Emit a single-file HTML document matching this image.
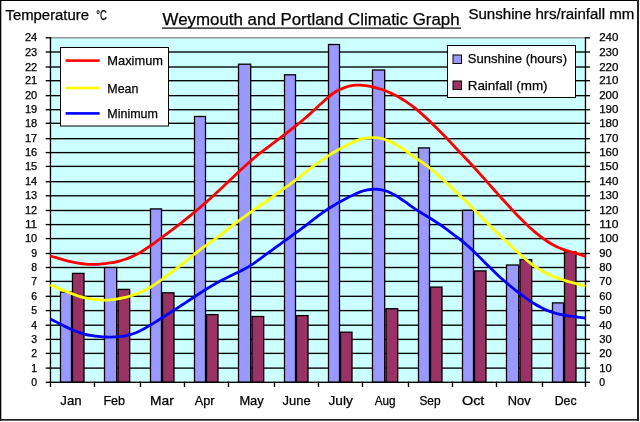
<!DOCTYPE html>
<html lang="en"><head><meta charset="utf-8"><title>Weymouth and Portland Climatic Graph</title>
<style>html,body{margin:0;padding:0;background:#fff;}svg{display:block;}text{font-family:"Liberation Sans", "DejaVu Sans", sans-serif;fill:#000;stroke:#000;stroke-width:0.25px;}</style>
</head><body>
<svg width="640" height="422" viewBox="0 0 640 422">
<rect x="0" y="0" width="640" height="422" fill="#fff"/>
<rect x="0" y="0" width="639" height="1" fill="#000"/>
<rect x="0" y="0" width="1.3" height="421" fill="#000"/>
<rect x="637" y="0" width="2" height="421" fill="#222"/>
<rect x="0" y="419" width="639" height="1.7" fill="#222"/>
<rect x="50" y="37.12" width="536" height="345.50" fill="#ccffff"/>
<g fill="#000"><rect x="50" y="367.43" width="535" height="1.35" /><rect x="50" y="352.72" width="535" height="1.35" /><rect x="50" y="338.72" width="535" height="1.35" /><rect x="50" y="324.52" width="535" height="1.35" /><rect x="50" y="309.93" width="535" height="1.35" /><rect x="50" y="295.62" width="535" height="1.35" /><rect x="50" y="280.72" width="535" height="1.35" /><rect x="50" y="266.82" width="535" height="1.35" /><rect x="50" y="252.82" width="535" height="1.35" /><rect x="50" y="237.92" width="535" height="1.35" /><rect x="50" y="223.92" width="535" height="1.35" /><rect x="50" y="209.82" width="535" height="1.35" /><rect x="50" y="195.12" width="535" height="1.35" /><rect x="50" y="181.02" width="535" height="1.35" /><rect x="50" y="165.72" width="535" height="1.35" /><rect x="50" y="151.92" width="535" height="1.35" /><rect x="50" y="138.02" width="535" height="1.35" /><rect x="50" y="122.62" width="535" height="1.35" /><rect x="50" y="109.03" width="535" height="1.35" /><rect x="50" y="94.98" width="535" height="1.35" /><rect x="50" y="80.03" width="535" height="1.35" /><rect x="50" y="66.33" width="535" height="1.35" /><rect x="50" y="51.33" width="535" height="1.35" /></g>
<rect x="50" y="37.12" width="536" height="1.35" fill="#8c8c8c"/>
<g><rect x="60.5" y="292.1" width="11" height="90.2" fill="#9999ff" stroke="#000" stroke-width="1.3"/><rect x="72.5" y="273.4" width="11.5" height="108.9" fill="#993366" stroke="#000" stroke-width="1.3"/><rect x="104.5" y="267.5" width="12.2" height="114.8" fill="#9999ff" stroke="#000" stroke-width="1.3"/><rect x="118.0" y="289.4" width="11.7" height="92.9" fill="#993366" stroke="#000" stroke-width="1.3"/><rect x="150.5" y="208.9" width="11" height="173.4" fill="#9999ff" stroke="#000" stroke-width="1.3"/><rect x="162.5" y="292.8" width="11.5" height="89.5" fill="#993366" stroke="#000" stroke-width="1.3"/><rect x="194.5" y="116.5" width="11" height="265.8" fill="#9999ff" stroke="#000" stroke-width="1.3"/><rect x="206.5" y="314.6" width="11.5" height="67.7" fill="#993366" stroke="#000" stroke-width="1.3"/><rect x="238.5" y="64.2" width="12.2" height="318.1" fill="#9999ff" stroke="#000" stroke-width="1.3"/><rect x="252.0" y="316.5" width="11.7" height="65.8" fill="#993366" stroke="#000" stroke-width="1.3"/><rect x="284.5" y="74.8" width="11" height="307.5" fill="#9999ff" stroke="#000" stroke-width="1.3"/><rect x="296.5" y="315.6" width="11.5" height="66.7" fill="#993366" stroke="#000" stroke-width="1.3"/><rect x="328.5" y="44.5" width="11" height="337.8" fill="#9999ff" stroke="#000" stroke-width="1.3"/><rect x="340.5" y="332.2" width="11.5" height="50.1" fill="#993366" stroke="#000" stroke-width="1.3"/><rect x="372.5" y="70.0" width="12.2" height="312.3" fill="#9999ff" stroke="#000" stroke-width="1.3"/><rect x="386.0" y="308.7" width="11.7" height="73.6" fill="#993366" stroke="#000" stroke-width="1.3"/><rect x="418.5" y="147.9" width="11" height="234.4" fill="#9999ff" stroke="#000" stroke-width="1.3"/><rect x="430.5" y="287.1" width="11.5" height="95.2" fill="#993366" stroke="#000" stroke-width="1.3"/><rect x="462.5" y="210.3" width="11" height="172.0" fill="#9999ff" stroke="#000" stroke-width="1.3"/><rect x="474.5" y="270.9" width="11.5" height="111.4" fill="#993366" stroke="#000" stroke-width="1.3"/><rect x="506.5" y="265.0" width="12.2" height="117.3" fill="#9999ff" stroke="#000" stroke-width="1.3"/><rect x="520.0" y="259.6" width="11.7" height="122.7" fill="#993366" stroke="#000" stroke-width="1.3"/><rect x="552.5" y="302.9" width="11" height="79.4" fill="#9999ff" stroke="#000" stroke-width="1.3"/><rect x="564.5" y="251.8" width="11.5" height="130.5" fill="#993366" stroke="#000" stroke-width="1.3"/></g>
<g fill="#000"><rect x="49.8" y="37.12" width="1.35" height="345.50"/><rect x="584.8" y="37.12" width="1.35" height="345.50"/><rect x="50" y="381.62" width="536" height="1.35"/><rect x="45.7" y="381.62" width="5" height="1.35"/><rect x="585" y="381.62" width="5" height="1.35"/><rect x="45.7" y="367.43" width="5" height="1.35"/><rect x="585" y="367.43" width="5" height="1.35"/><rect x="45.7" y="352.72" width="5" height="1.35"/><rect x="585" y="352.72" width="5" height="1.35"/><rect x="45.7" y="338.72" width="5" height="1.35"/><rect x="585" y="338.72" width="5" height="1.35"/><rect x="45.7" y="324.52" width="5" height="1.35"/><rect x="585" y="324.52" width="5" height="1.35"/><rect x="45.7" y="309.93" width="5" height="1.35"/><rect x="585" y="309.93" width="5" height="1.35"/><rect x="45.7" y="295.62" width="5" height="1.35"/><rect x="585" y="295.62" width="5" height="1.35"/><rect x="45.7" y="280.72" width="5" height="1.35"/><rect x="585" y="280.72" width="5" height="1.35"/><rect x="45.7" y="266.82" width="5" height="1.35"/><rect x="585" y="266.82" width="5" height="1.35"/><rect x="45.7" y="252.82" width="5" height="1.35"/><rect x="585" y="252.82" width="5" height="1.35"/><rect x="45.7" y="237.92" width="5" height="1.35"/><rect x="585" y="237.92" width="5" height="1.35"/><rect x="45.7" y="223.92" width="5" height="1.35"/><rect x="585" y="223.92" width="5" height="1.35"/><rect x="45.7" y="209.82" width="5" height="1.35"/><rect x="585" y="209.82" width="5" height="1.35"/><rect x="45.7" y="195.12" width="5" height="1.35"/><rect x="585" y="195.12" width="5" height="1.35"/><rect x="45.7" y="181.02" width="5" height="1.35"/><rect x="585" y="181.02" width="5" height="1.35"/><rect x="45.7" y="165.72" width="5" height="1.35"/><rect x="585" y="165.72" width="5" height="1.35"/><rect x="45.7" y="151.92" width="5" height="1.35"/><rect x="585" y="151.92" width="5" height="1.35"/><rect x="45.7" y="138.02" width="5" height="1.35"/><rect x="585" y="138.02" width="5" height="1.35"/><rect x="45.7" y="122.62" width="5" height="1.35"/><rect x="585" y="122.62" width="5" height="1.35"/><rect x="45.7" y="109.03" width="5" height="1.35"/><rect x="585" y="109.03" width="5" height="1.35"/><rect x="45.7" y="94.98" width="5" height="1.35"/><rect x="585" y="94.98" width="5" height="1.35"/><rect x="45.7" y="80.03" width="5" height="1.35"/><rect x="585" y="80.03" width="5" height="1.35"/><rect x="45.7" y="66.33" width="5" height="1.35"/><rect x="585" y="66.33" width="5" height="1.35"/><rect x="45.7" y="51.33" width="5" height="1.35"/><rect x="585" y="51.33" width="5" height="1.35"/><rect x="45.7" y="37.12" width="5" height="1.35"/><rect x="585" y="37.12" width="5" height="1.35"/><rect x="49.80" y="381.62" width="1.35" height="5.3"/><rect x="93.80" y="381.62" width="1.35" height="5.3"/><rect x="139.80" y="381.62" width="1.35" height="5.3"/><rect x="183.80" y="381.62" width="1.35" height="5.3"/><rect x="227.80" y="381.62" width="1.35" height="5.3"/><rect x="273.80" y="381.62" width="1.35" height="5.3"/><rect x="317.80" y="381.62" width="1.35" height="5.3"/><rect x="361.80" y="381.62" width="1.35" height="5.3"/><rect x="407.80" y="381.62" width="1.35" height="5.3"/><rect x="451.80" y="381.62" width="1.35" height="5.3"/><rect x="495.80" y="381.62" width="1.35" height="5.3"/><rect x="541.80" y="381.62" width="1.35" height="5.3"/><rect x="584.80" y="381.62" width="1.35" height="5.3"/></g>
<path d="M50.30,255.94 C51.13,256.17 53.63,256.84 55.30,257.32 C56.97,257.80 58.63,258.35 60.30,258.84 C61.97,259.33 63.63,259.83 65.30,260.28 C66.97,260.73 68.63,261.17 70.30,261.56 C71.97,261.95 73.63,262.32 75.30,262.65 C76.97,262.97 78.63,263.27 80.30,263.51 C81.97,263.75 83.63,263.96 85.30,264.10 C86.97,264.24 88.63,264.34 90.30,264.37 C91.97,264.40 93.63,264.35 95.30,264.29 C96.97,264.23 98.63,264.15 100.30,264.03 C101.97,263.91 103.63,263.77 105.30,263.59 C106.97,263.41 108.63,263.20 110.30,262.94 C111.97,262.68 113.63,262.39 115.30,262.04 C116.97,261.69 118.63,261.30 120.30,260.84 C121.97,260.38 123.63,259.86 125.30,259.28 C126.97,258.70 128.63,258.07 130.30,257.37 C131.97,256.67 133.63,255.91 135.30,255.07 C136.97,254.23 138.63,253.31 140.30,252.34 C141.97,251.37 143.63,250.33 145.30,249.26 C146.97,248.19 148.63,247.07 150.30,245.93 C151.97,244.79 153.63,243.61 155.30,242.41 C156.97,241.21 158.63,239.97 160.30,238.73 C161.97,237.49 163.63,236.21 165.30,234.95 C166.97,233.69 168.63,232.41 170.30,231.15 C171.97,229.89 173.63,228.66 175.30,227.40 C176.97,226.14 178.63,224.88 180.30,223.59 C181.97,222.30 183.63,221.00 185.30,219.68 C186.97,218.36 188.63,217.02 190.30,215.66 C191.97,214.30 193.63,212.92 195.30,211.52 C196.97,210.12 198.63,208.70 200.30,207.26 C201.97,205.82 203.63,204.36 205.30,202.89 C206.97,201.42 208.63,199.93 210.30,198.44 C211.97,196.95 213.63,195.46 215.30,193.94 C216.97,192.42 218.63,190.89 220.30,189.33 C221.97,187.77 223.63,186.18 225.30,184.59 C226.97,183.00 228.63,181.40 230.30,179.81 C231.97,178.22 233.63,176.62 235.30,175.03 C236.97,173.44 238.63,171.86 240.30,170.30 C241.97,168.74 243.63,167.19 245.30,165.67 C246.97,164.15 248.63,162.65 250.30,161.20 C251.97,159.75 253.63,158.32 255.30,156.94 C256.97,155.56 258.63,154.25 260.30,152.94 C261.97,151.63 263.63,150.36 265.30,149.09 C266.97,147.82 268.63,146.56 270.30,145.31 C271.97,144.06 273.63,142.81 275.30,141.57 C276.97,140.32 278.63,139.10 280.30,137.84 C281.97,136.58 283.63,135.32 285.30,134.03 C286.97,132.74 288.63,131.42 290.30,130.11 C291.97,128.80 293.63,127.50 295.30,126.19 C296.97,124.88 298.63,123.61 300.30,122.25 C301.97,120.89 303.63,119.47 305.30,118.03 C306.97,116.59 308.63,115.10 310.30,113.59 C311.97,112.08 313.63,110.53 315.30,108.98 C316.97,107.43 318.63,105.84 320.30,104.31 C321.97,102.78 323.63,101.22 325.30,99.77 C326.97,98.32 328.63,96.89 330.30,95.60 C331.97,94.31 333.63,93.09 335.30,92.05 C336.97,91.01 338.63,90.14 340.30,89.35 C341.97,88.56 343.63,87.90 345.30,87.33 C346.97,86.76 348.63,86.28 350.30,85.92 C351.97,85.56 353.63,85.30 355.30,85.16 C356.97,85.02 358.63,85.00 360.30,85.06 C361.97,85.12 363.63,85.31 365.30,85.54 C366.97,85.77 368.63,86.09 370.30,86.43 C371.97,86.78 373.63,87.18 375.30,87.61 C376.97,88.04 378.63,88.50 380.30,89.03 C381.97,89.56 383.63,90.13 385.30,90.77 C386.97,91.41 388.63,92.11 390.30,92.85 C391.97,93.59 393.63,94.38 395.30,95.23 C396.97,96.08 398.63,96.98 400.30,97.96 C401.97,98.93 403.63,99.98 405.30,101.08 C406.97,102.18 408.63,103.35 410.30,104.57 C411.97,105.79 413.63,107.08 415.30,108.42 C416.97,109.76 418.63,111.15 420.30,112.60 C421.97,114.05 423.63,115.56 425.30,117.10 C426.97,118.64 428.63,120.23 430.30,121.83 C431.97,123.43 433.63,125.04 435.30,126.68 C436.97,128.32 438.63,129.98 440.30,131.67 C441.97,133.36 443.63,135.07 445.30,136.81 C446.97,138.55 448.63,140.32 450.30,142.10 C451.97,143.88 453.63,145.68 455.30,147.46 C456.97,149.24 458.63,151.01 460.30,152.77 C461.97,154.53 463.63,156.24 465.30,158.00 C466.97,159.76 468.63,161.53 470.30,163.33 C471.97,165.13 473.63,166.95 475.30,168.79 C476.97,170.62 478.63,172.48 480.30,174.34 C481.97,176.20 483.63,178.07 485.30,179.94 C486.97,181.81 488.63,183.69 490.30,185.57 C491.97,187.45 493.63,189.33 495.30,191.20 C496.97,193.07 498.63,194.96 500.30,196.81 C501.97,198.66 503.63,200.48 505.30,202.31 C506.97,204.14 508.63,205.98 510.30,207.78 C511.97,209.58 513.63,211.38 515.30,213.13 C516.97,214.88 518.63,216.62 520.30,218.31 C521.97,220.00 523.63,221.68 525.30,223.30 C526.97,224.92 528.63,226.52 530.30,228.03 C531.97,229.54 533.63,230.99 535.30,232.38 C536.97,233.77 538.63,235.10 540.30,236.37 C541.97,237.64 543.63,238.88 545.30,240.02 C546.97,241.16 548.63,242.21 550.30,243.19 C551.97,244.17 553.63,245.07 555.30,245.90 C556.97,246.73 558.63,247.48 560.30,248.18 C561.97,248.88 563.63,249.50 565.30,250.09 C566.97,250.68 568.63,251.19 570.30,251.70 C571.97,252.21 573.63,252.68 575.30,253.17 C576.97,253.66 578.63,254.11 580.30,254.64 C581.97,255.17 584.47,256.05 585.30,256.33" fill="none" stroke="#ff0000" stroke-width="2.8" stroke-linecap="butt" stroke-linejoin="round"/>
<path d="M50.30,285.02 C51.13,285.35 53.63,286.33 55.30,287.02 C56.97,287.71 58.63,288.45 60.30,289.15 C61.97,289.85 63.63,290.56 65.30,291.23 C66.97,291.90 68.63,292.56 70.30,293.18 C71.97,293.80 73.63,294.41 75.30,294.97 C76.97,295.53 78.63,296.07 80.30,296.56 C81.97,297.05 83.63,297.50 85.30,297.89 C86.97,298.27 88.63,298.61 90.30,298.87 C91.97,299.13 93.63,299.31 95.30,299.48 C96.97,299.65 98.63,299.80 100.30,299.90 C101.97,300.00 103.63,300.07 105.30,300.07 C106.97,300.07 108.63,300.02 110.30,299.90 C111.97,299.78 113.63,299.60 115.30,299.36 C116.97,299.12 118.63,298.82 120.30,298.49 C121.97,298.16 123.63,297.78 125.30,297.36 C126.97,296.94 128.63,296.49 130.30,296.00 C131.97,295.51 133.63,295.00 135.30,294.41 C136.97,293.82 138.63,293.19 140.30,292.47 C141.97,291.75 143.63,290.97 145.30,290.10 C146.97,289.23 148.63,288.28 150.30,287.27 C151.97,286.26 153.63,285.18 155.30,284.06 C156.97,282.94 158.63,281.77 160.30,280.58 C161.97,279.39 163.63,278.15 165.30,276.91 C166.97,275.67 168.63,274.39 170.30,273.14 C171.97,271.89 173.63,270.68 175.30,269.42 C176.97,268.16 178.63,266.90 180.30,265.60 C181.97,264.30 183.63,262.95 185.30,261.60 C186.97,260.25 188.63,258.89 190.30,257.53 C191.97,256.17 193.63,254.79 195.30,253.46 C196.97,252.13 198.63,250.80 200.30,249.53 C201.97,248.26 203.63,247.04 205.30,245.85 C206.97,244.66 208.63,243.57 210.30,242.41 C211.97,241.25 213.63,240.12 215.30,238.90 C216.97,237.69 218.63,236.41 220.30,235.12 C221.97,233.83 223.63,232.46 225.30,231.14 C226.97,229.81 228.63,228.47 230.30,227.17 C231.97,225.87 233.63,224.59 235.30,223.34 C236.97,222.09 238.63,220.87 240.30,219.65 C241.97,218.43 243.63,217.24 245.30,216.04 C246.97,214.84 248.63,213.65 250.30,212.47 C251.97,211.29 253.63,210.11 255.30,208.95 C256.97,207.79 258.63,206.64 260.30,205.49 C261.97,204.34 263.63,203.21 265.30,202.05 C266.97,200.89 268.63,199.73 270.30,198.55 C271.97,197.37 273.63,196.18 275.30,194.98 C276.97,193.78 278.63,192.56 280.30,191.34 C281.97,190.12 283.63,188.89 285.30,187.67 C286.97,186.45 288.63,185.24 290.30,184.02 C291.97,182.80 293.63,181.59 295.30,180.34 C296.97,179.09 298.63,177.85 300.30,176.55 C301.97,175.25 303.63,173.87 305.30,172.53 C306.97,171.19 308.63,169.81 310.30,168.51 C311.97,167.21 313.63,165.94 315.30,164.73 C316.97,163.52 318.63,162.39 320.30,161.25 C321.97,160.11 323.63,159.00 325.30,157.90 C326.97,156.80 328.63,155.68 330.30,154.62 C331.97,153.56 333.63,152.52 335.30,151.55 C336.97,150.58 338.63,149.70 340.30,148.78 C341.97,147.86 343.63,146.94 345.30,146.04 C346.97,145.14 348.63,144.21 350.30,143.38 C351.97,142.55 353.63,141.75 355.30,141.08 C356.97,140.41 358.63,139.83 360.30,139.35 C361.97,138.87 363.63,138.50 365.30,138.22 C366.97,137.94 368.63,137.75 370.30,137.65 C371.97,137.55 373.63,137.54 375.30,137.64 C376.97,137.74 378.63,137.93 380.30,138.26 C381.97,138.59 383.63,139.06 385.30,139.62 C386.97,140.18 388.63,140.88 390.30,141.64 C391.97,142.40 393.63,143.27 395.30,144.20 C396.97,145.13 398.63,146.14 400.30,147.20 C401.97,148.25 403.63,149.38 405.30,150.53 C406.97,151.68 408.63,152.88 410.30,154.07 C411.97,155.26 413.63,156.47 415.30,157.65 C416.97,158.83 418.63,159.96 420.30,161.12 C421.97,162.28 423.63,163.40 425.30,164.63 C426.97,165.86 428.63,167.15 430.30,168.50 C431.97,169.85 433.63,171.27 435.30,172.71 C436.97,174.15 438.63,175.65 440.30,177.15 C441.97,178.65 443.63,180.18 445.30,181.72 C446.97,183.26 448.63,184.81 450.30,186.38 C451.97,187.95 453.63,189.53 455.30,191.12 C456.97,192.71 458.63,194.29 460.30,195.89 C461.97,197.49 463.63,199.09 465.30,200.74 C466.97,202.39 468.63,204.09 470.30,205.79 C471.97,207.49 473.63,209.21 475.30,210.92 C476.97,212.62 478.63,214.33 480.30,216.02 C481.97,217.71 483.63,219.39 485.30,221.07 C486.97,222.75 488.63,224.43 490.30,226.09 C491.97,227.75 493.63,229.42 495.30,231.05 C496.97,232.68 498.63,234.30 500.30,235.88 C501.97,237.46 503.63,238.98 505.30,240.54 C506.97,242.10 508.63,243.67 510.30,245.23 C511.97,246.79 513.63,248.37 515.30,249.92 C516.97,251.47 518.63,253.03 520.30,254.54 C521.97,256.05 523.63,257.54 525.30,258.95 C526.97,260.36 528.63,261.73 530.30,263.02 C531.97,264.31 533.63,265.54 535.30,266.70 C536.97,267.86 538.63,268.94 540.30,269.95 C541.97,270.96 543.63,271.92 545.30,272.78 C546.97,273.64 548.63,274.39 550.30,275.12 C551.97,275.85 553.63,276.50 555.30,277.14 C556.97,277.78 558.63,278.38 560.30,278.95 C561.97,279.52 563.63,280.05 565.30,280.57 C566.97,281.09 568.63,281.58 570.30,282.06 C571.97,282.54 573.63,283.00 575.30,283.45 C576.97,283.90 578.63,284.31 580.30,284.77 C581.97,285.23 584.47,285.96 585.30,286.20" fill="none" stroke="#ffff00" stroke-width="2.8" stroke-linecap="butt" stroke-linejoin="round"/>
<path d="M50.30,319.05 C51.13,319.46 53.63,320.64 55.30,321.48 C56.97,322.32 58.63,323.22 60.30,324.08 C61.97,324.94 63.63,325.81 65.30,326.62 C66.97,327.44 68.63,328.24 70.30,328.97 C71.97,329.71 73.63,330.39 75.30,331.03 C76.97,331.67 78.63,332.27 80.30,332.81 C81.97,333.35 83.63,333.86 85.30,334.29 C86.97,334.72 88.63,335.10 90.30,335.41 C91.97,335.72 93.63,335.93 95.30,336.14 C96.97,336.35 98.63,336.53 100.30,336.67 C101.97,336.81 103.63,336.94 105.30,337.01 C106.97,337.08 108.63,337.13 110.30,337.12 C111.97,337.11 113.63,337.07 115.30,336.97 C116.97,336.87 118.63,336.74 120.30,336.54 C121.97,336.34 123.63,336.11 125.30,335.79 C126.97,335.47 128.63,335.10 130.30,334.64 C131.97,334.18 133.63,333.66 135.30,333.02 C136.97,332.38 138.63,331.62 140.30,330.80 C141.97,329.99 143.63,329.06 145.30,328.13 C146.97,327.20 148.63,326.20 150.30,325.20 C151.97,324.20 153.63,323.18 155.30,322.15 C156.97,321.12 158.63,320.07 160.30,319.01 C161.97,317.95 163.63,316.87 165.30,315.79 C166.97,314.71 168.63,313.61 170.30,312.54 C171.97,311.47 173.63,310.43 175.30,309.36 C176.97,308.29 178.63,307.20 180.30,306.11 C181.97,305.02 183.63,303.92 185.30,302.83 C186.97,301.74 188.63,300.64 190.30,299.54 C191.97,298.44 193.63,297.34 195.30,296.25 C196.97,295.16 198.63,294.07 200.30,293.00 C201.97,291.93 203.63,290.85 205.30,289.81 C206.97,288.77 208.63,287.74 210.30,286.74 C211.97,285.74 213.63,284.77 215.30,283.82 C216.97,282.87 218.63,281.94 220.30,281.05 C221.97,280.16 223.63,279.30 225.30,278.46 C226.97,277.62 228.63,276.82 230.30,276.01 C231.97,275.20 233.63,274.42 235.30,273.61 C236.97,272.80 238.63,272.01 240.30,271.17 C241.97,270.33 243.63,269.49 245.30,268.57 C246.97,267.65 248.63,266.70 250.30,265.65 C251.97,264.60 253.63,263.46 255.30,262.29 C256.97,261.12 258.63,259.88 260.30,258.66 C261.97,257.44 263.63,256.22 265.30,254.99 C266.97,253.77 268.63,252.53 270.30,251.31 C271.97,250.09 273.63,248.85 275.30,247.64 C276.97,246.42 278.63,245.22 280.30,244.02 C281.97,242.82 283.63,241.63 285.30,240.43 C286.97,239.23 288.63,238.02 290.30,236.81 C291.97,235.60 293.63,234.38 295.30,233.17 C296.97,231.96 298.63,230.78 300.30,229.55 C301.97,228.32 303.63,227.05 305.30,225.79 C306.97,224.53 308.63,223.24 310.30,221.97 C311.97,220.70 313.63,219.42 315.30,218.16 C316.97,216.90 318.63,215.65 320.30,214.43 C321.97,213.21 323.63,212.01 325.30,210.86 C326.97,209.71 328.63,208.58 330.30,207.51 C331.97,206.44 333.63,205.42 335.30,204.46 C336.97,203.50 338.63,202.64 340.30,201.73 C341.97,200.82 343.63,199.92 345.30,199.02 C346.97,198.12 348.63,197.21 350.30,196.36 C351.97,195.51 353.63,194.66 355.30,193.91 C356.97,193.16 358.63,192.47 360.30,191.88 C361.97,191.29 363.63,190.78 365.30,190.39 C366.97,189.99 368.63,189.71 370.30,189.51 C371.97,189.31 373.63,189.20 375.30,189.21 C376.97,189.22 378.63,189.31 380.30,189.56 C381.97,189.81 383.63,190.20 385.30,190.72 C386.97,191.24 388.63,191.92 390.30,192.68 C391.97,193.44 393.63,194.35 395.30,195.31 C396.97,196.27 398.63,197.36 400.30,198.46 C401.97,199.56 403.63,200.75 405.30,201.93 C406.97,203.11 408.63,204.34 410.30,205.53 C411.97,206.72 413.63,207.92 415.30,209.04 C416.97,210.16 418.63,211.22 420.30,212.26 C421.97,213.30 423.63,214.25 425.30,215.26 C426.97,216.27 428.63,217.27 430.30,218.30 C431.97,219.33 433.63,220.37 435.30,221.45 C436.97,222.53 438.63,223.63 440.30,224.77 C441.97,225.91 443.63,227.10 445.30,228.31 C446.97,229.52 448.63,230.79 450.30,232.04 C451.97,233.29 453.63,234.55 455.30,235.82 C456.97,237.09 458.63,238.34 460.30,239.66 C461.97,240.97 463.63,242.30 465.30,243.71 C466.97,245.12 468.63,246.61 470.30,248.14 C471.97,249.67 473.63,251.29 475.30,252.91 C476.97,254.53 478.63,256.21 480.30,257.87 C481.97,259.53 483.63,261.22 485.30,262.89 C486.97,264.56 488.63,266.22 490.30,267.87 C491.97,269.52 493.63,271.17 495.30,272.77 C496.97,274.37 498.63,275.95 500.30,277.45 C501.97,278.95 503.63,280.36 505.30,281.79 C506.97,283.22 508.63,284.63 510.30,286.01 C511.97,287.39 513.63,288.76 515.30,290.09 C516.97,291.42 518.63,292.73 520.30,293.99 C521.97,295.25 523.63,296.48 525.30,297.66 C526.97,298.84 528.63,299.98 530.30,301.07 C531.97,302.16 533.63,303.22 535.30,304.23 C536.97,305.24 538.63,306.22 540.30,307.11 C541.97,308.00 543.63,308.86 545.30,309.60 C546.97,310.34 548.63,310.98 550.30,311.56 C551.97,312.14 553.63,312.64 555.30,313.10 C556.97,313.56 558.63,313.97 560.30,314.34 C561.97,314.71 563.63,315.04 565.30,315.34 C566.97,315.64 568.63,315.90 570.30,316.14 C571.97,316.38 573.63,316.59 575.30,316.80 C576.97,317.01 578.63,317.17 580.30,317.39 C581.97,317.61 584.47,318.01 585.30,318.13" fill="none" stroke="#0000ff" stroke-width="2.8" stroke-linecap="butt" stroke-linejoin="round"/>
<rect x="60.5" y="47.5" width="108" height="78.5" fill="#fff" stroke="#000" stroke-width="1"/>
<rect x="65.6" y="59.3" width="34" height="2.6" fill="#ff0000"/>
<rect x="65.6" y="86.7" width="34" height="2.6" fill="#ffff00"/>
<rect x="65.6" y="112.1" width="34" height="2.6" fill="#0000ff"/>
<rect x="447.5" y="45.5" width="128" height="52" fill="#fff" stroke="#000" stroke-width="1"/>
<rect x="453" y="55" width="8.5" height="8.5" fill="#9999ff" stroke="#000" stroke-width="1"/>
<rect x="453" y="81" width="8.5" height="8.5" fill="#993366" stroke="#000" stroke-width="1"/>
<text x="5.5" y="20" font-size="14" textLength="83.5" lengthAdjust="spacingAndGlyphs">Temperature</text>
<text x="96.3" y="20" font-size="14" textLength="10.7" lengthAdjust="spacingAndGlyphs">&#176;C</text>
<text x="162.6" y="25.1" font-size="15.7" textLength="297" lengthAdjust="spacingAndGlyphs">Weymouth and Portland Climatic Graph</text>
<rect x="162" y="27.5" width="299" height="1.2" fill="#000"/>
<text x="468.4" y="19.3" font-size="14" textLength="166" lengthAdjust="spacingAndGlyphs">Sunshine hrs/rainfall mm</text>
<text x="107.3" y="64.9" font-size="13" textLength="55.7" lengthAdjust="spacingAndGlyphs">Maximum</text>
<text x="107.3" y="92.5" font-size="13" textLength="31.1" lengthAdjust="spacingAndGlyphs">Mean</text>
<text x="107.3" y="117.7" font-size="13" textLength="50.7" lengthAdjust="spacingAndGlyphs">Minimum</text>
<text x="467.7" y="63.4" font-size="13" textLength="99.3" lengthAdjust="spacingAndGlyphs">Sunshine (hours)</text>
<text x="467.7" y="89.5" font-size="13" textLength="79.9" lengthAdjust="spacingAndGlyphs">Rainfall (mm)</text>
<text x="37.2" y="385.9" font-size="10.5" text-anchor="end">0</text>
<text x="599.2" y="385.9" font-size="10.5">0</text>
<text x="37.2" y="371.7" font-size="10.5" text-anchor="end">1</text>
<text x="599.2" y="371.7" font-size="10.5" textLength="12.5" lengthAdjust="spacingAndGlyphs">10</text>
<text x="37.2" y="357" font-size="10.5" text-anchor="end">2</text>
<text x="599.2" y="357" font-size="10.5" textLength="12.5" lengthAdjust="spacingAndGlyphs">20</text>
<text x="37.2" y="343" font-size="10.5" text-anchor="end">3</text>
<text x="599.2" y="343" font-size="10.5" textLength="12.5" lengthAdjust="spacingAndGlyphs">30</text>
<text x="37.2" y="328.8" font-size="10.5" text-anchor="end">4</text>
<text x="599.2" y="328.8" font-size="10.5" textLength="12.5" lengthAdjust="spacingAndGlyphs">40</text>
<text x="37.2" y="314.2" font-size="10.5" text-anchor="end">5</text>
<text x="599.2" y="314.2" font-size="10.5" textLength="12.5" lengthAdjust="spacingAndGlyphs">50</text>
<text x="37.2" y="299.9" font-size="10.5" text-anchor="end">6</text>
<text x="599.2" y="299.9" font-size="10.5" textLength="12.5" lengthAdjust="spacingAndGlyphs">60</text>
<text x="37.2" y="285" font-size="10.5" text-anchor="end">7</text>
<text x="599.2" y="285" font-size="10.5" textLength="12.5" lengthAdjust="spacingAndGlyphs">70</text>
<text x="37.2" y="271.1" font-size="10.5" text-anchor="end">8</text>
<text x="599.2" y="271.1" font-size="10.5" textLength="12.5" lengthAdjust="spacingAndGlyphs">80</text>
<text x="37.2" y="257.1" font-size="10.5" text-anchor="end">9</text>
<text x="599.2" y="257.1" font-size="10.5" textLength="12.5" lengthAdjust="spacingAndGlyphs">90</text>
<text x="37.2" y="242.2" font-size="10.5" text-anchor="end" textLength="12.3" lengthAdjust="spacingAndGlyphs">10</text>
<text x="599.2" y="242.2" font-size="10.5" textLength="19.3" lengthAdjust="spacingAndGlyphs">100</text>
<text x="37.2" y="228.2" font-size="10.5" text-anchor="end" textLength="12.3" lengthAdjust="spacingAndGlyphs">11</text>
<text x="599.2" y="228.2" font-size="10.5" textLength="19.3" lengthAdjust="spacingAndGlyphs">110</text>
<text x="37.2" y="214.1" font-size="10.5" text-anchor="end" textLength="12.3" lengthAdjust="spacingAndGlyphs">12</text>
<text x="599.2" y="214.1" font-size="10.5" textLength="19.3" lengthAdjust="spacingAndGlyphs">120</text>
<text x="37.2" y="199.4" font-size="10.5" text-anchor="end" textLength="12.3" lengthAdjust="spacingAndGlyphs">13</text>
<text x="599.2" y="199.4" font-size="10.5" textLength="19.3" lengthAdjust="spacingAndGlyphs">130</text>
<text x="37.2" y="185.3" font-size="10.5" text-anchor="end" textLength="12.3" lengthAdjust="spacingAndGlyphs">14</text>
<text x="599.2" y="185.3" font-size="10.5" textLength="19.3" lengthAdjust="spacingAndGlyphs">140</text>
<text x="37.2" y="170" font-size="10.5" text-anchor="end" textLength="12.3" lengthAdjust="spacingAndGlyphs">15</text>
<text x="599.2" y="170" font-size="10.5" textLength="19.3" lengthAdjust="spacingAndGlyphs">150</text>
<text x="37.2" y="156.2" font-size="10.5" text-anchor="end" textLength="12.3" lengthAdjust="spacingAndGlyphs">16</text>
<text x="599.2" y="156.2" font-size="10.5" textLength="19.3" lengthAdjust="spacingAndGlyphs">160</text>
<text x="37.2" y="142.3" font-size="10.5" text-anchor="end" textLength="12.3" lengthAdjust="spacingAndGlyphs">17</text>
<text x="599.2" y="142.3" font-size="10.5" textLength="19.3" lengthAdjust="spacingAndGlyphs">170</text>
<text x="37.2" y="126.9" font-size="10.5" text-anchor="end" textLength="12.3" lengthAdjust="spacingAndGlyphs">18</text>
<text x="599.2" y="126.9" font-size="10.5" textLength="19.3" lengthAdjust="spacingAndGlyphs">180</text>
<text x="37.2" y="113.3" font-size="10.5" text-anchor="end" textLength="12.3" lengthAdjust="spacingAndGlyphs">19</text>
<text x="599.2" y="113.3" font-size="10.5" textLength="19.3" lengthAdjust="spacingAndGlyphs">190</text>
<text x="37.2" y="99.25" font-size="10.5" text-anchor="end" textLength="12.3" lengthAdjust="spacingAndGlyphs">20</text>
<text x="599.2" y="99.25" font-size="10.5" textLength="19.3" lengthAdjust="spacingAndGlyphs">200</text>
<text x="37.2" y="84.3" font-size="10.5" text-anchor="end" textLength="12.3" lengthAdjust="spacingAndGlyphs">21</text>
<text x="599.2" y="84.3" font-size="10.5" textLength="19.3" lengthAdjust="spacingAndGlyphs">210</text>
<text x="37.2" y="70.6" font-size="10.5" text-anchor="end" textLength="12.3" lengthAdjust="spacingAndGlyphs">22</text>
<text x="599.2" y="70.6" font-size="10.5" textLength="19.3" lengthAdjust="spacingAndGlyphs">220</text>
<text x="37.2" y="55.6" font-size="10.5" text-anchor="end" textLength="12.3" lengthAdjust="spacingAndGlyphs">23</text>
<text x="599.2" y="55.6" font-size="10.5" textLength="19.3" lengthAdjust="spacingAndGlyphs">230</text>
<text x="37.2" y="41.4" font-size="10.5" text-anchor="end" textLength="12.3" lengthAdjust="spacingAndGlyphs">24</text>
<text x="599.2" y="41.4" font-size="10.5" textLength="19.3" lengthAdjust="spacingAndGlyphs">240</text>
<text x="60.3" y="405.3" font-size="13" textLength="21.3" lengthAdjust="spacingAndGlyphs">Jan</text>
<text x="103.4" y="405.3" font-size="13" textLength="21.6" lengthAdjust="spacingAndGlyphs">Feb</text>
<text x="150" y="405.3" font-size="13" textLength="23.8" lengthAdjust="spacingAndGlyphs">Mar</text>
<text x="194.7" y="405.3" font-size="13" textLength="19.7" lengthAdjust="spacingAndGlyphs">Apr</text>
<text x="239.4" y="405.3" font-size="13" textLength="24.3" lengthAdjust="spacingAndGlyphs">May</text>
<text x="282.5" y="405.3" font-size="13" textLength="28.1" lengthAdjust="spacingAndGlyphs">June</text>
<text x="328.4" y="405.3" font-size="13" textLength="24.4" lengthAdjust="spacingAndGlyphs">July</text>
<text x="374.7" y="405.3" font-size="13" textLength="20.9" lengthAdjust="spacingAndGlyphs">Aug</text>
<text x="419.4" y="405.3" font-size="13" textLength="21.2" lengthAdjust="spacingAndGlyphs">Sep</text>
<text x="461.9" y="405.3" font-size="13" textLength="22.5" lengthAdjust="spacingAndGlyphs">Oct</text>
<text x="507.8" y="405.3" font-size="13" textLength="22.8" lengthAdjust="spacingAndGlyphs">Nov</text>
<text x="554.7" y="405.3" font-size="13" textLength="21.9" lengthAdjust="spacingAndGlyphs">Dec</text>
</svg></body></html>
